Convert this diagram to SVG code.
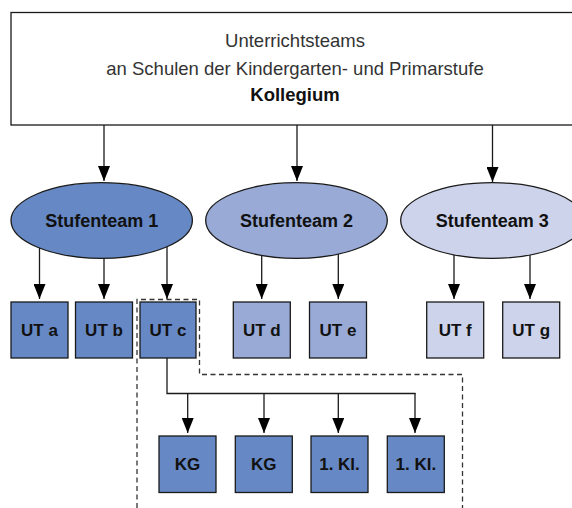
<svg xmlns="http://www.w3.org/2000/svg" width="572" height="508" viewBox="0 0 572 508">
<style>
.bg{fill:#ffffff}
.frame{fill:#ffffff;stroke:#1a1a1a;stroke-width:1.3}
.n{stroke:#1a1a1a;stroke-width:1.3}
.c1{fill:#6688c4}
.c2{fill:#98aad5}
.c3{fill:#cdd3eb}
.lbl{font-family:"Liberation Sans",Arial,sans-serif;font-weight:bold;fill:#111;text-anchor:middle}
.e{font-size:18px}
.b{font-size:17px}
.top{font-family:"Liberation Sans",Arial,sans-serif;font-size:18.5px;fill:#333;text-anchor:middle}
.conn{fill:none;stroke:#1a1a1a;stroke-width:1.3}
.dash{fill:none;stroke:#333;stroke-width:1.3;stroke-dasharray:5 3.5}
</style>
<defs>
<marker id="ah" markerUnits="userSpaceOnUse" markerWidth="15" markerHeight="12" refX="15" refY="6" orient="auto">
<path d="M0,0 L15,6 L0,12 z" fill="#000"/>
</marker>
</defs>
<rect class="bg" x="0" y="0" width="572" height="508"/>
<g id="connectors">
<line class="conn" x1="104" y1="125" x2="104" y2="181" marker-end="url(#ah)"/>
<line class="conn" x1="297" y1="125" x2="297" y2="181" marker-end="url(#ah)"/>
<line class="conn" x1="492.5" y1="125" x2="492.5" y2="182" marker-end="url(#ah)"/>
<line class="conn" x1="39.5" y1="240" x2="39.5" y2="299" marker-end="url(#ah)"/>
<line class="conn" x1="104" y1="250" x2="104" y2="299" marker-end="url(#ah)"/>
<line class="conn" x1="167" y1="240" x2="167" y2="299" marker-end="url(#ah)"/>
<line class="conn" x1="261.7" y1="245" x2="261.7" y2="299" marker-end="url(#ah)"/>
<line class="conn" x1="338.3" y1="245" x2="338.3" y2="299" marker-end="url(#ah)"/>
<line class="conn" x1="454" y1="245" x2="454" y2="299" marker-end="url(#ah)"/>
<line class="conn" x1="530" y1="245" x2="530" y2="299" marker-end="url(#ah)"/>
<polyline class="conn" points="167,358 167,393.5 415.5,393.5"/>
<line class="conn" x1="187.7" y1="393.5" x2="187.7" y2="433" marker-end="url(#ah)"/>
<line class="conn" x1="264" y1="393.5" x2="264" y2="433" marker-end="url(#ah)"/>
<line class="conn" x1="338.3" y1="393.5" x2="338.3" y2="433" marker-end="url(#ah)"/>
<line class="conn" x1="415" y1="393" x2="415" y2="433" marker-end="url(#ah)"/>
</g>
<g id="kollegium">
<rect class="frame" x="11" y="12.5" width="600" height="112.5"/>
<text class="top" x="295" y="47">Unterrichtsteams</text>
<text class="top" x="295" y="75">an Schulen der Kindergarten- und Primarstufe</text>
<text class="top" x="295" y="101" style="font-weight:bold;fill:#111">Kollegium</text>
</g>
<g id="stufenteam1">
<ellipse class="n c1" cx="101.7" cy="220.5" rx="90.7" ry="37.8"/>
<text class="lbl e" x="101.7" y="227">Stufenteam 1</text>
</g>
<g id="stufenteam2">
<ellipse class="n c2" cx="296.5" cy="220.5" rx="90.8" ry="37.8"/>
<text class="lbl e" x="296.5" y="227">Stufenteam 2</text>
</g>
<g id="stufenteam3">
<ellipse class="n c3" cx="492.3" cy="220.5" rx="91.6" ry="37.8"/>
<text class="lbl e" x="492.3" y="227">Stufenteam 3</text>
</g>
<g id="ut-a">
<rect class="n c1" x="11" y="302" width="57" height="56"/>
<text class="lbl b" x="39.5" y="336">UT a</text>
</g>
<g id="ut-b">
<rect class="n c1" x="75.5" y="302" width="57" height="56"/>
<text class="lbl b" x="104" y="336">UT b</text>
</g>
<g id="ut-c">
<rect class="n c1" x="140" y="302" width="56" height="56"/>
<text class="lbl b" x="168" y="336">UT c</text>
</g>
<g id="ut-d">
<rect class="n c2" x="233.3" y="302" width="57" height="56"/>
<text class="lbl b" x="261.8" y="336">UT d</text>
</g>
<g id="ut-e">
<rect class="n c2" x="309.5" y="302" width="57" height="56"/>
<text class="lbl b" x="338" y="336">UT e</text>
</g>
<g id="ut-f">
<rect class="n c3" x="426.7" y="302" width="57" height="56"/>
<text class="lbl b" x="455.2" y="336">UT f</text>
</g>
<g id="ut-g">
<rect class="n c3" x="502.7" y="302" width="57" height="56"/>
<text class="lbl b" x="531.2" y="336">UT g</text>
</g>
<g id="kg-1">
<rect class="n c1" x="159" y="436" width="57" height="56.5"/>
<text class="lbl b" x="187.5" y="470">KG</text>
</g>
<g id="kg-2">
<rect class="n c1" x="235.3" y="436" width="57" height="56.5"/>
<text class="lbl b" x="263.8" y="470">KG</text>
</g>
<g id="kl-1">
<rect class="n c1" x="311" y="436" width="57" height="56.5"/>
<text class="lbl b" x="339.5" y="470">1. Kl.</text>
</g>
<g id="kl-2">
<rect class="n c1" x="387.3" y="436" width="57" height="56.5"/>
<text class="lbl b" x="415.8" y="470">1. Kl.</text>
</g>
<g id="ut-c-group">
<path class="dash" d="M137,508 V299.5 H199.5 V374.5 H462.5 V508"/>
</g>
</svg>
